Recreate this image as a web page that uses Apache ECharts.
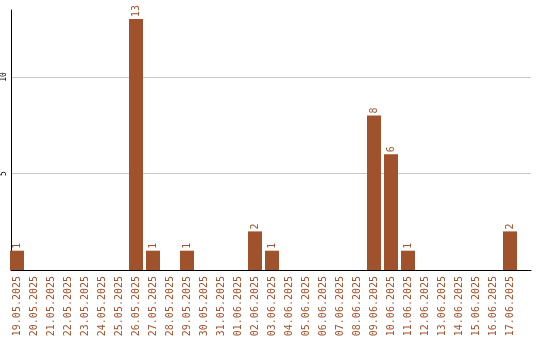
<!DOCTYPE html>
<html><head><meta charset="utf-8">
<script src="https://cdn.jsdelivr.net/npm/echarts@6/dist/echarts.min.js"></script>
<style>html,body{margin:0;padding:0;background:#fff}#c{width:540px;height:340px}</style>
</head><body><div id="c"></div>
<script>
const categories = ['19.05.2025','20.05.2025','21.05.2025','22.05.2025','23.05.2025','24.05.2025','25.05.2025','26.05.2025','27.05.2025','28.05.2025','29.05.2025','30.05.2025','31.05.2025','01.06.2025','02.06.2025','03.06.2025','04.06.2025','05.06.2025','06.06.2025','07.06.2025','08.06.2025','09.06.2025','10.06.2025','11.06.2025','12.06.2025','13.06.2025','14.06.2025','15.06.2025','16.06.2025','17.06.2025'];
const values = [1,0,0,0,0,0,0,13,1,0,1,0,0,0,2,1,0,0,0,0,0,8,6,1,0,0,0,0,0,2];
const yTicks = [5,10];
const yMax = 13.47;

const brown = '#a0522d';
const font = 'DejaVu Sans Mono';
const chart = echarts.init(document.getElementById('c'), null, {renderer:'canvas'});
chart.setOption({
  animation:false,
  grid:[
    {left:10, width:521, top:10, bottom:70, containLabel:false},
    {left:8.5, width:510, top:10, bottom:70, containLabel:false}
  ],
  xAxis:[
    {gridIndex:0, type:'category', data:categories, axisLine:{show:true, lineStyle:{color:'#000', width:1}}, axisTick:{show:false}, axisLabel:{show:false}, splitLine:{show:false}},
    {gridIndex:1, type:'category', data:categories, axisLine:{show:false}, axisTick:{show:false},
     axisLabel:{show:true, interval:0, rotate:90, color:brown, fontFamily:font, fontSize:10, margin:6}}
  ],
  yAxis:[
    {gridIndex:0, type:'value', min:0, max:yMax, interval:5,
     axisLine:{show:true, lineStyle:{color:'#000', width:1}}, axisTick:{show:false},
     axisLabel:{show:true, rotate:90, color:'#000', fontFamily:font, fontSize:8, margin:3,
       formatter:v => yTicks.includes(v) ? String(v) : ''},
     splitLine:{show:true, showMinLine:false, showMaxLine:false, lineStyle:{color:'#c8c8c8', width:1}}},
    {gridIndex:1, type:'value', min:0, max:yMax, show:false}
  ],
  series:[{
    type:'bar', xAxisIndex:1, yAxisIndex:1, data:values.map(v => v===0 ? null : v),
    barWidth:14, itemStyle:{color:brown},
    label:{show:true, position:'top', rotate:90, align:'left', verticalAlign:'middle', distance:2,
      color:brown, fontFamily:font, fontSize:10}
  }]
});
</script></body></html>
